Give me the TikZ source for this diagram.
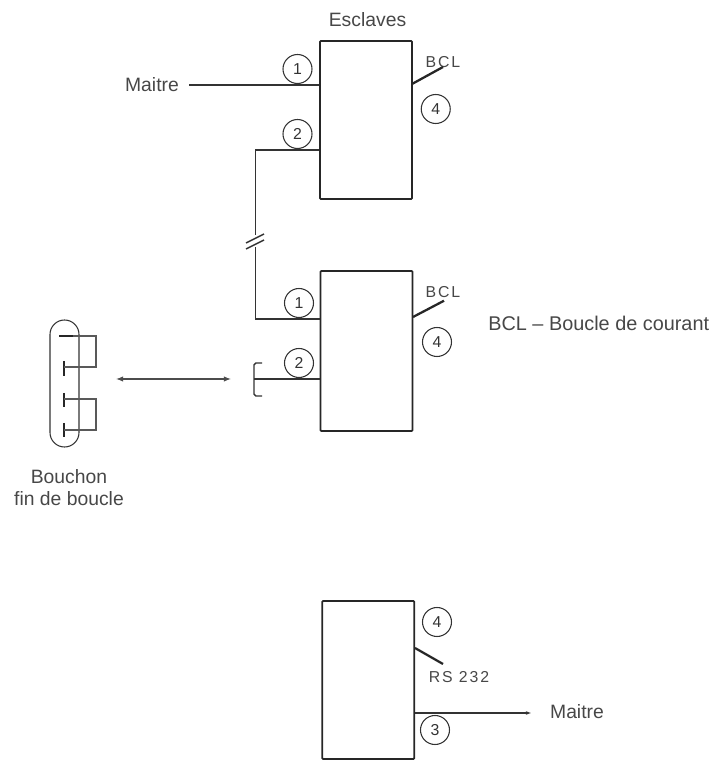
\documentclass[tikz,border=0pt]{standalone}
\usepackage{xcolor}
\usepackage{fontspec}
\setmainfont{Liberation Sans}
\newfontfamily\espace[LetterSpace=12]{Liberation Sans}
\usetikzlibrary{positioning, arrows.meta}
\tikzset{
  esclave/.style={draw=black!85, line width=1.1pt, rounded corners=0.5pt, minimum width=1.84cm, minimum height=3.16cm, inner sep=0pt},
  numero/.style={draw=black!80, circle, line width=0.6pt, minimum size=0.58cm, inner sep=0pt, text=black!80, font=\fontsize{9}{10}\selectfont},
  etiquette/.style={inner sep=0pt, text=black!72, font=\fontsize{11}{12.5}\selectfont, align=center},
  petit/.style={inner sep=0pt, text=black!72, font=\espace\fontsize{9}{10}\selectfont},
  liaison/.style={draw=black!80, line width=0.8pt},
  broche/.style={draw=black!85, line width=1.3pt},
  plot/.style={draw=black!85, line width=1.7pt},
  fil/.style={draw=black!65, line width=0.7pt}
}
\begin{document}
\begin{tikzpicture}[scale=0.5]
\useasboundingbox (0,0) rectangle (28.76,30.4);
% esclaves
\node[esclave] (box1) at (14.64,25.6) {};
\node[esclave, minimum height=3.2cm] (box2) at (14.66,16.36) {};
\node[esclave] (box3) at (14.73,3.2) {};
\node[etiquette, above=0.25cm of box1, xshift=0.03cm] (titre) {Esclaves};
% premier esclave
\node[etiquette] (maitre1) at (6.08,27) {Maitre};
\node[numero] (n1a) at (11.9,27.64) {1};
\node[numero] (n2a) at (11.9,25.04) {2};
\node[numero] (n4a) at (17.43,26.04) {4};
\node[petit] (bcl1) at (17.72,27.93) {BCL};
\coordinate (m1) at (7.56,27);
\coordinate (coude1) at (10.23,24.4);
\coordinate (coude2) at (10.23,17.64);
\coordinate (coupe1) at (10.23,20.98);
\coordinate (coupe2) at (10.23,20.5);
\coordinate (c1) at (16.48,27.04);
\coordinate (c1e) at (17.72,27.72);
\draw[liaison] (m1) -- (box1.west |- m1);
\draw[liaison] (box1.west |- coude1) -- (coude1) -- (coupe1);
\draw[liaison] (coupe2) -- (coude2) -- (box2.west |- coude2);
\draw[liaison] (9.84,20.68) -- (10.56,21.04);
\draw[liaison] (9.84,20.44) -- (10.56,20.8);
\draw[broche] (c1) -- (c1e);
% deuxieme esclave
\node[numero] (n1b) at (11.96,18.28) {1};
\node[numero] (n2b) at (11.96,15.88) {2};
\node[numero] (n4b) at (17.48,16.72) {4};
\node[petit] (bcl2) at (17.72,18.72) {BCL};
\node[etiquette, anchor=west, font=\fontsize{11.3}{12.5}\selectfont] (def) at (19.52,17.48) {BCL -- Boucle de courant};
\coordinate (c2) at (16.52,17.72);
\coordinate (c2e) at (17.76,18.37);
\coordinate (fiche) at (10.16,15.24);
\draw[broche] (c2) -- (c2e);
\draw[liaison] (box2.west |- fiche) -- (fiche);
\draw[liaison, rounded corners=1pt] (10.48,15.88) -- (10.16,15.88) -- (10.16,14.56) -- (10.48,14.56);
% bouchon
\node[draw=black!80, line width=0.6pt, rounded corners=0.29cm, minimum width=0.58cm, minimum height=2.54cm, inner sep=0pt] (bouchon) at (2.58,15.06) {};
\node[etiquette] (nombouchon) at (2.76,10.88) {Bouchon\\fin de boucle};
\coordinate (fl1) at (4.64,15.24);
\coordinate (fl2) at (9.24,15.24);
\draw[{Latex[length=4pt,width=3pt]}-{Latex[length=4pt,width=3pt]}, draw=black!70, line width=0.6pt] (fl1) -- (fl2);
\draw[broche] (2.36,16.96) -- (2.92,16.96);
\draw[plot] (2.56,15.96) -- (2.56,15.36);
\draw[plot] (2.56,14.68) -- (2.56,14.12);
\draw[plot] (2.56,13.48) -- (2.56,12.92);
\draw[fil] (2.92,16.96) -- (3.84,16.96) -- (3.84,15.72) -- (2.56,15.72);
\draw[fil] (2.56,14.44) -- (3.84,14.44) -- (3.84,13.2) -- (2.56,13.2);
% esclave seul
\node[numero] (n4c) at (17.48,5.52) {4};
\node[numero] (n3) at (17.4,1.2) {3};
\node[petit] (rs) at (18.36,3.32) {RS 232};
\node[etiquette] (maitre2) at (23.08,1.92) {Maitre};
\coordinate (c3) at (16.6,4.48);
\coordinate (c3e) at (17.72,3.84);
\coordinate (m2) at (21.32,1.88);
\draw[broche] (c3) -- (c3e);
\draw[liaison, -{Latex[length=4pt,width=2pt]}] (box3.east |- m2) -- (m2);
\end{tikzpicture}
\end{document}
